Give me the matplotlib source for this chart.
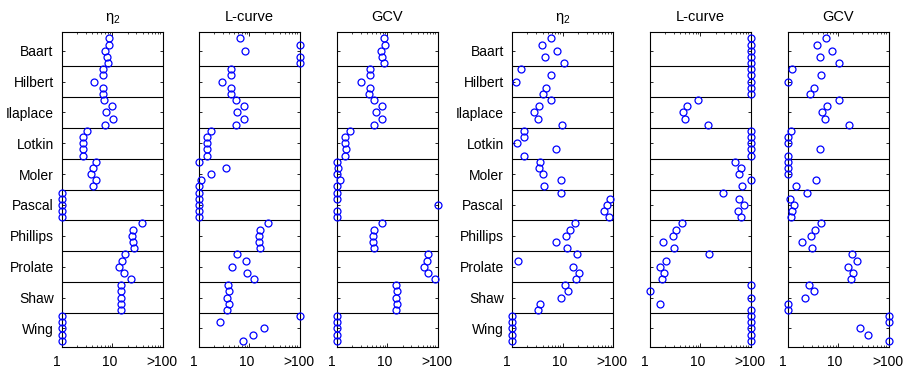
import matplotlib
matplotlib.use('Agg')
import matplotlib.pyplot as plt
import numpy as np
from matplotlib.ticker import FixedLocator, LogLocator, NullFormatter
from matplotlib.transforms import blended_transform_factory, offset_copy

plt.rcParams['font.family'] = ['Liberation Sans', 'DejaVu Sans']
plt.rcParams['mathtext.fontset'] = 'custom'
plt.rcParams['mathtext.rm'] = 'Liberation Sans'
plt.rcParams['mathtext.it'] = 'Liberation Sans'
plt.rcParams['mathtext.bf'] = 'Liberation Sans'

problems = ['Baart', 'Hilbert', 'Ilaplace', 'Lotkin', 'Moler',
            'Pascal', 'Phillips', 'Prolate', 'Shaw', 'Wing']
titles = [r'$\eta_2$', 'L-curve', 'GCV', r'$\eta_2$', 'L-curve', 'GCV']
x_ticks = [1, 10, 100]
x_tick_labels = ['1', '10', '>100']

# values per problem (5 runs each); 100 means ">100"
left_eta2 = [
    [8.4, 8.6, 7.2, 7.7, 8.2],
    [6.6, 6.6, 4.4, 6.6, 6.5],
    [6.8, 9.8, 7.5, 10.2, 7.0],
    [3.2, 2.6, 2.6, 2.6, 2.6],
    [4.7, 4.2, 3.7, 4.7, 4.2],
    [1, 1, 1, 1, 1],
    [38.6, 25.9, 24.7, 25.1, 26.3],
    [17.4, 15.8, 13.8, 17.1, 22.9],
    [14.9, 15.1, 14.7, 14.9, 14.5],
    [1, 1, 1, 1, 1],
]
left_lcurve = [
    [6.6, 100, 8.1, 100, 100],
    [4.4, 4.4, 2.9, 4.4, 4.3],
    [5.3, 7.7, 5.8, 7.8, 5.5],
    [1.75, 1.44, 1.42, 1.46, 1.44],
    [1.0, 3.4, 1.75, 1.1, 1.0],
    [1, 1, 1, 1, 1],
    [23.2, 16.4, 15.4, 15.7, 16.6],
    [5.7, 8.5, 4.6, 9.1, 12.3],
    [3.75, 3.9, 3.6, 3.9, 3.6],
    [100, 2.6, 19.4, 11.6, 7.4],
]
left_gcv = [
    [8.7, 8.9, 7.5, 7.8, 8.5],
    [4.5, 4.5, 2.95, 4.5, 4.4],
    [5.3, 7.7, 5.9, 7.8, 5.4],
    [1.8, 1.47, 1.44, 1.49, 1.47],
    [1, 1.03, 1, 1.13, 1],
    [1, 1, 100, 1, 1],
    [7.9, 5.4, 5.1, 5.2, 5.5],
    [65, 60, 53, 64, 87],
    [15.1, 15.6, 14.9, 15.6, 14.9],
    [1, 1, 1, 1, 1],
]
right_eta2 = [
    [5.75, 3.9, 7.7, 4.5, 10.6],
    [1.51, 5.8, 1.2, 4.7, 4.1],
    [5.9, 3.4, 2.75, 3.2, 9.5],
    [1.74, 1.69, 1.24, 7.2, 1.74],
    [3.5, 3.4, 4.1, 9.3, 4.2],
    [9.2, 88, 76, 67, 83],
    [17.9, 14.0, 11.7, 7.5, 12.2],
    [19, 1.32, 16.3, 20.9, 18.5],
    [11, 12.8, 9.4, 3.5, 3.2],
    [1, 1, 1, 1, 1],
]
right_lcurve = [
    [100, 100, 100, 100, 100],
    [100, 100, 100, 100, 100],
    [8.85, 5.3, 4.5, 5.0, 14],
    [100, 100, 100, 100, 100],
    [48, 63, 59, 100, 66],
    [28, 59, 73, 55, 65],
    [4.3, 3.3, 2.8, 1.8, 2.95],
    [14.9, 2.1, 1.6, 1.87, 1.7],
    [100, 1, 100, 1.6, 100],
    [100, 100, 100, 100, 100],
]
right_gcv = [
    [5.7, 3.8, 7.5, 4.4, 10.3],
    [1.22, 4.5, 1, 3.4, 2.8],
    [10.2, 5.9, 4.9, 5.6, 16.5],
    [1.18, 1, 1, 4.3, 1],
    [1, 1, 1, 3.66, 1.45],
    [2.4, 1.12, 1.35, 1.23, 1.16],
    [4.5, 3.5, 2.9, 1.9, 3.1],
    [19, 23.5, 15.8, 20.2, 17.9],
    [2.6, 3.4, 2.2, 1, 1],
    [100, 100, 27, 39, 100],
]
panels = [left_eta2, left_lcurve, left_gcv, right_eta2, right_lcurve, right_gcv]

W, H = 910, 370
fig = plt.figure(figsize=(W / 100, H / 100), dpi=100)
lefts_px = [62, 199, 337, 512.3, 650, 787.7]
width_px = 100.8
top_px, bot_px = 32.3, 346.7

n_rows = len(problems)
n_runs = 5
for p, (data, title, lpx) in enumerate(zip(panels, titles, lefts_px)):
    ax = fig.add_axes([lpx / W, (H - bot_px) / H, width_px / W, (bot_px - top_px) / H])
    ax.set_xscale('log')
    ax.set_xlim(1, 100)
    ax.set_ylim(n_rows + 0.095, -0.1)
    arr = np.array(data, dtype=float)
    for i in range(n_rows):
        ys = i + 0.1 + 0.2 * np.arange(n_runs)
        ax.plot(arr[i], ys, linestyle='none', marker='o', markersize=5,
                markerfacecolor='none', markeredgecolor='#0000ff',
                markeredgewidth=0.9, clip_on=False, zorder=3)
    for i in range(1, n_rows):
        ax.axhline(i, color='black', lw=0.8, zorder=2)
    for s in ax.spines.values():
        s.set_linewidth(0.8)
    ax.yaxis.set_major_locator(FixedLocator(np.arange(n_rows) + 0.5))
    if p % 3 == 0:
        ax.set_yticklabels(problems, fontsize=10)
    else:
        ax.set_yticklabels([])
    ax.tick_params(axis='y', direction='in', left=True, right=True,
                   length=2.5, width=0.6, pad=6)
    ax.xaxis.set_major_locator(FixedLocator(x_ticks))
    ax.xaxis.set_minor_locator(LogLocator(base=10, subs=np.arange(2, 10)))
    ax.xaxis.set_minor_formatter(NullFormatter())
    ax.set_xticklabels([])
    ax.tick_params(axis='x', which='major', direction='in', top=True,
                   bottom=True, length=3, width=0.6)
    ax.tick_params(axis='x', which='minor', direction='in', top=True,
                   bottom=True, length=1.6, width=0.5)
    trans = blended_transform_factory(ax.transData, ax.transAxes)
    shifts = [-5, -3, -1]
    for xv, lab, dx in zip(x_ticks, x_tick_labels, shifts):
        t = offset_copy(trans, fig=fig, x=dx, y=-8, units='dots')
        ax.text(xv, 0, lab, transform=t, ha='center', va='top', fontsize=10)
    ax.set_title(title, fontsize=10.5, pad=8)

fig.savefig('out.png', dpi=100)
